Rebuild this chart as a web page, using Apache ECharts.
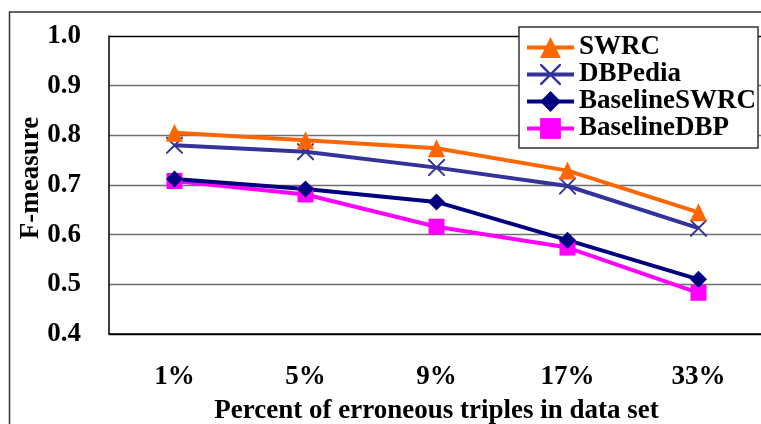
<!DOCTYPE html>
<html>
<head>
<meta charset="utf-8">
<script src="https://cdn.jsdelivr.net/npm/echarts@6/dist/echarts.min.js"></script>
<style>
  html, body { margin: 0; padding: 0; background: #fff; }
  #chart { width: 761px; height: 424px; }
</style>
</head>
<body>
<div id="chart"></div>
<script>
// Error-rate buckets on the x axis
const categories = ['1%', '5%', '9%', '17%', '33%'];

// F-measure per method
const swrc         = [0.805, 0.790, 0.774, 0.729, 0.645];
const dbpedia      = [0.780, 0.767, 0.735, 0.698, 0.613];
const baselineSwrc = [0.712, 0.692, 0.666, 0.589, 0.510];
const baselineDbp  = [0.708, 0.681, 0.616, 0.574, 0.483];

const seriesNames = ['SWRC', 'DBPedia', 'BaselineSWRC', 'BaselineDBP'];

const FONT = '"Liberation Serif", "Times New Roman", serif';
const FS = 27;

// Thin "x" cross used as the DBPedia marker
const crossPath = 'path://M0,0 L1.6,0 L10,8.4 L18.4,0 L20,0 L20,1.6 L11.6,10 L20,18.4 L20,20 L18.4,20 L10,11.6 L1.6,20 L0,20 L0,18.4 L8.4,10 L0,1.6 Z';

function lineSeries(name, data, color, symbol, size) {
  return {
    name: name,
    type: 'line',
    data: data,
    symbol: symbol,
    symbolSize: size,
    showAllSymbol: true,
    lineStyle: { color: color, width: 4 },
    itemStyle: { color: color },
    emphasis: { disabled: true },
    animation: false
  };
}

const chart = echarts.init(document.getElementById('chart'), null, { renderer: 'canvas' });

chart.setOption({
  backgroundColor: '#fff',
  animation: false,
  graphic: [{
    type: 'rect',
    shape: { x: 9.5, y: 12, width: 800, height: 500 },
    style: { fill: 'none', stroke: '#333', lineWidth: 1.5 },
    z: -1
  }],
  legend: {
    orient: 'vertical',
    left: 519,
    top: 27,
    padding: [7, 2, 6, 6],
    itemGap: 0,
    itemWidth: 47,
    itemHeight: 26,
    backgroundColor: '#fff',
    borderColor: '#333',
    borderWidth: 1.5,
    data: seriesNames,
    lineStyle: { width: 4 },
    textStyle: {
      fontFamily: FONT,
      fontWeight: 'bold',
      fontSize: FS,
      color: '#000'
    }
  },
  grid: {
    left: 109,
    top: 36,
    right: -3,
    bottom: 90,
    containLabel: false,
    outerBoundsMode: 'none'
  },
  xAxis: {
    type: 'category',
    data: categories,
    boundaryGap: true,
    name: 'Percent of erroneous triples in data set',
    nameLocation: 'middle',
    nameGap: 64,
    nameMoveOverlap: false,
    nameTextStyle: {
      fontFamily: FONT, fontWeight: 'bold', fontSize: FS, color: '#000'
    },
    axisLine: { lineStyle: { color: '#000', width: 1.5 } },
    axisTick: { inside: true, length: 9, lineStyle: { color: '#000', width: 1 } },
    axisLabel: {
      margin: 30,
      fontFamily: FONT, fontWeight: 'bold', fontSize: FS, color: '#000'
    },
    splitLine: { show: false }
  },
  yAxis: {
    type: 'value',
    min: 0.4,
    max: 1.0,
    interval: 0.1,
    name: 'F-measure',
    nameLocation: 'middle',
    nameGap: 64,
    nameMoveOverlap: false,
    nameTextStyle: {
      fontFamily: FONT, fontWeight: 'bold', fontSize: FS, color: '#000',
      padding: [0, 0, 0, 14]
    },
    axisLine: { show: true, lineStyle: { color: '#000', width: 1.5 } },
    axisTick: { show: false },
    axisLabel: {
      margin: 28,
      fontFamily: FONT, fontWeight: 'bold', fontSize: FS, color: '#000',
      formatter: v => v.toFixed(1)
    },
    splitLine: {
      show: true,
      lineStyle: {
        color: ['#000', '#6e6e6e', '#6e6e6e', '#6e6e6e', '#6e6e6e', '#6e6e6e', '#000'],
        width: 1.3
      }
    }
  },
  series: [
    lineSeries('BaselineDBP', baselineDbp, '#FF00FF', 'rect', 16),
    lineSeries('BaselineSWRC', baselineSwrc, '#000080', 'diamond', 17),
    lineSeries('DBPedia', dbpedia, '#333399', crossPath, 17),
    lineSeries('SWRC', swrc, '#FF6600', 'triangle', [17, 18])
  ]
});
</script>
</body>
</html>
